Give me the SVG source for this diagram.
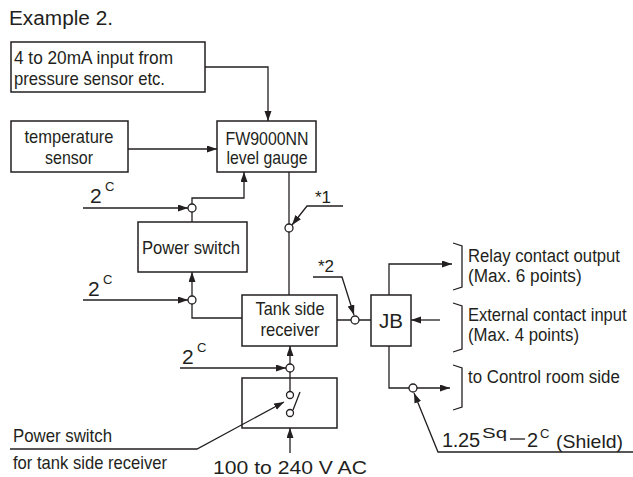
<svg xmlns="http://www.w3.org/2000/svg" width="633" height="477" viewBox="0 0 633 477">
<defs>
<marker id="ah" markerUnits="userSpaceOnUse" markerWidth="11" markerHeight="8" refX="10" refY="3.5" orient="auto"><path d="M0,0 L10,3.5 L0,7 z" fill="#231f20"/></marker>
<style>
.bx{fill:#fff;stroke:#231f20;stroke-width:1.5}
.ln{fill:none;stroke:#231f20;stroke-width:1.3}
.ar{fill:none;stroke:#231f20;stroke-width:1.3;marker-end:url(#ah)}
.ci{fill:#fff;stroke:#231f20;stroke-width:1.3}
.t{font-family:"Liberation Sans Narrow","Liberation Sans",Arial,sans-serif;font-size:19px;fill:#231f20}
.r{font-family:"Liberation Sans",Arial,sans-serif;font-size:19px;fill:#231f20}
.n{font-family:"Liberation Sans",Arial,sans-serif;fill:#231f20}
.m{text-anchor:middle}
</style>
</defs>
<rect width="633" height="477" fill="#fff"/>
<text class="n" x="9" y="25" font-size="20" textLength="104" lengthAdjust="spacingAndGlyphs">Example 2.</text>

<g id="input420">
<rect class="bx" x="11" y="42" width="194" height="50"/>
<text class="t" x="14" y="64" textLength="159" lengthAdjust="spacingAndGlyphs">4 to 20mA input from</text>
<text class="t" x="14" y="85" textLength="151" lengthAdjust="spacingAndGlyphs">pressure sensor etc.</text>
</g>
<g id="temp">
<rect class="bx" x="11" y="121" width="117" height="51"/>
<text class="t m" x="69" y="143" textLength="89" lengthAdjust="spacingAndGlyphs">temperature</text>
<text class="t m" x="69" y="164" textLength="48" lengthAdjust="spacingAndGlyphs">sensor</text>
</g>
<g id="fw">
<rect class="bx" x="217" y="121" width="99" height="51"/>
<text class="t m" x="267" y="145" textLength="83" lengthAdjust="spacingAndGlyphs">FW9000NN</text>
<text class="t m" x="267" y="164" textLength="81" lengthAdjust="spacingAndGlyphs">level gauge</text>
</g>
<g id="pswitch">
<rect class="bx" x="138" y="222" width="109" height="50"/>
<text class="t m" x="191" y="254" textLength="98" lengthAdjust="spacingAndGlyphs">Power switch</text>
</g>
<g id="tank">
<rect class="bx" x="242" y="295" width="95" height="51"/>
<text class="t m" x="290" y="315" textLength="69" lengthAdjust="spacingAndGlyphs">Tank side</text>
<text class="t m" x="290" y="336" textLength="59" lengthAdjust="spacingAndGlyphs">receiver</text>
</g>
<g id="jb">
<rect class="bx" x="371" y="295" width="40" height="51"/>
<text class="n m" x="391" y="328" font-size="20" textLength="24" lengthAdjust="spacingAndGlyphs">JB</text>
</g>
<g id="acswitch">
<rect class="bx" x="242" y="378" width="95" height="50"/>
<path class="ln" d="M290,372 V391.5 M293,410 L300,392"/>
<circle class="ci" cx="290" cy="395" r="3.5"/>
<circle class="ci" cx="290" cy="413" r="3.5"/>
</g>

<g id="connectors">
<path class="ar" d="M205,67 H268 V121"/>
<path class="ar" d="M128,149 H217"/>
<path class="ar" d="M192,204 V198 H244 V172"/>
<path class="ar" d="M83,208 H188"/>
<path class="ln" d="M192,212 V222"/>
<path class="ar" d="M192,296 V272"/>
<path class="ar" d="M83,300 H188"/>
<path class="ln" d="M192,304 V318 H242"/>
<path class="ln" d="M289,172 V295"/>
<path class="ar" d="M343,206 H307 L292,225"/>
<path class="ar" d="M313,277 H342 L354,315"/>
<path class="ln" d="M337,320 H371"/>
<path class="ar" d="M180,368 H286"/>
<path class="ar" d="M290,364 V346"/>
<path class="ar" d="M290,453 V428"/>
<path class="ar" d="M10,449 H197 L284,402"/>
<path class="ar" d="M389,295 V264 H452"/>
<path class="ar" d="M440,320 H411"/>
<path class="ar" d="M389,346 V388 H450"/>
<path class="ar" d="M633,452 H438 L414,393"/>
<circle class="ci" cx="192" cy="208" r="4"/>
<circle class="ci" cx="192" cy="300" r="4"/>
<circle class="ci" cx="289" cy="228" r="4"/>
<circle class="ci" cx="355" cy="320" r="4"/>
<circle class="ci" cx="290" cy="368" r="4"/>
<circle class="ci" cx="413" cy="388" r="4"/>
<path class="ln" d="M453,243 L462,246 V287 L453,290"/>
<path class="ln" d="M453,303 L462,306 V349 L453,352"/>
<path class="ln" d="M453,365 L462,368 V407 L453,410"/>
</g>

<g id="labels">
<text class="n" x="90" y="203" font-size="21">2</text>
<text class="n" x="105" y="191" font-size="13">C</text>
<text class="n" x="88" y="296" font-size="21">2</text>
<text class="n" x="103" y="284" font-size="13">C</text>
<text class="n" x="182" y="364" font-size="21">2</text>
<text class="n" x="197" y="352" font-size="13">C</text>
<text class="n" x="315" y="203" font-size="17">*1</text>
<text class="n" x="318" y="272" font-size="17">*2</text>
<text class="r" transform="translate(468,262) scale(0.878,1)">Relay contact output</text>
<text class="r" transform="translate(468,282) scale(0.905,1)">(Max. 6 points)</text>
<text class="r" transform="translate(468,321) scale(0.868,1)">External contact input</text>
<text class="r" transform="translate(468,341) scale(0.884,1)">(Max. 4 points)</text>
<text class="r" transform="translate(468,383) scale(0.888,1)">to Control room side</text>
<text class="t" x="13" y="442" textLength="99" lengthAdjust="spacingAndGlyphs">Power switch</text>
<text class="t" x="13" y="469" textLength="154" lengthAdjust="spacingAndGlyphs">for tank side receiver</text>
<text class="n" x="213" y="474" font-size="19" textLength="154" lengthAdjust="spacingAndGlyphs">100 to 240 V AC</text>
<text class="n" x="442" y="447" font-size="20" textLength="38" lengthAdjust="spacing">1.25</text>
<text class="n" x="482" y="438" font-size="14" textLength="25" lengthAdjust="spacingAndGlyphs">Sq</text>
<path class="ln" d="M510,439 H525"/>
<text class="n" x="527" y="447" font-size="20">2</text>
<text class="n" x="540" y="438" font-size="13">C</text>
<text class="t" x="556" y="448" font-size="15" textLength="67" lengthAdjust="spacingAndGlyphs">(Shield)</text>
</g>
</svg>
